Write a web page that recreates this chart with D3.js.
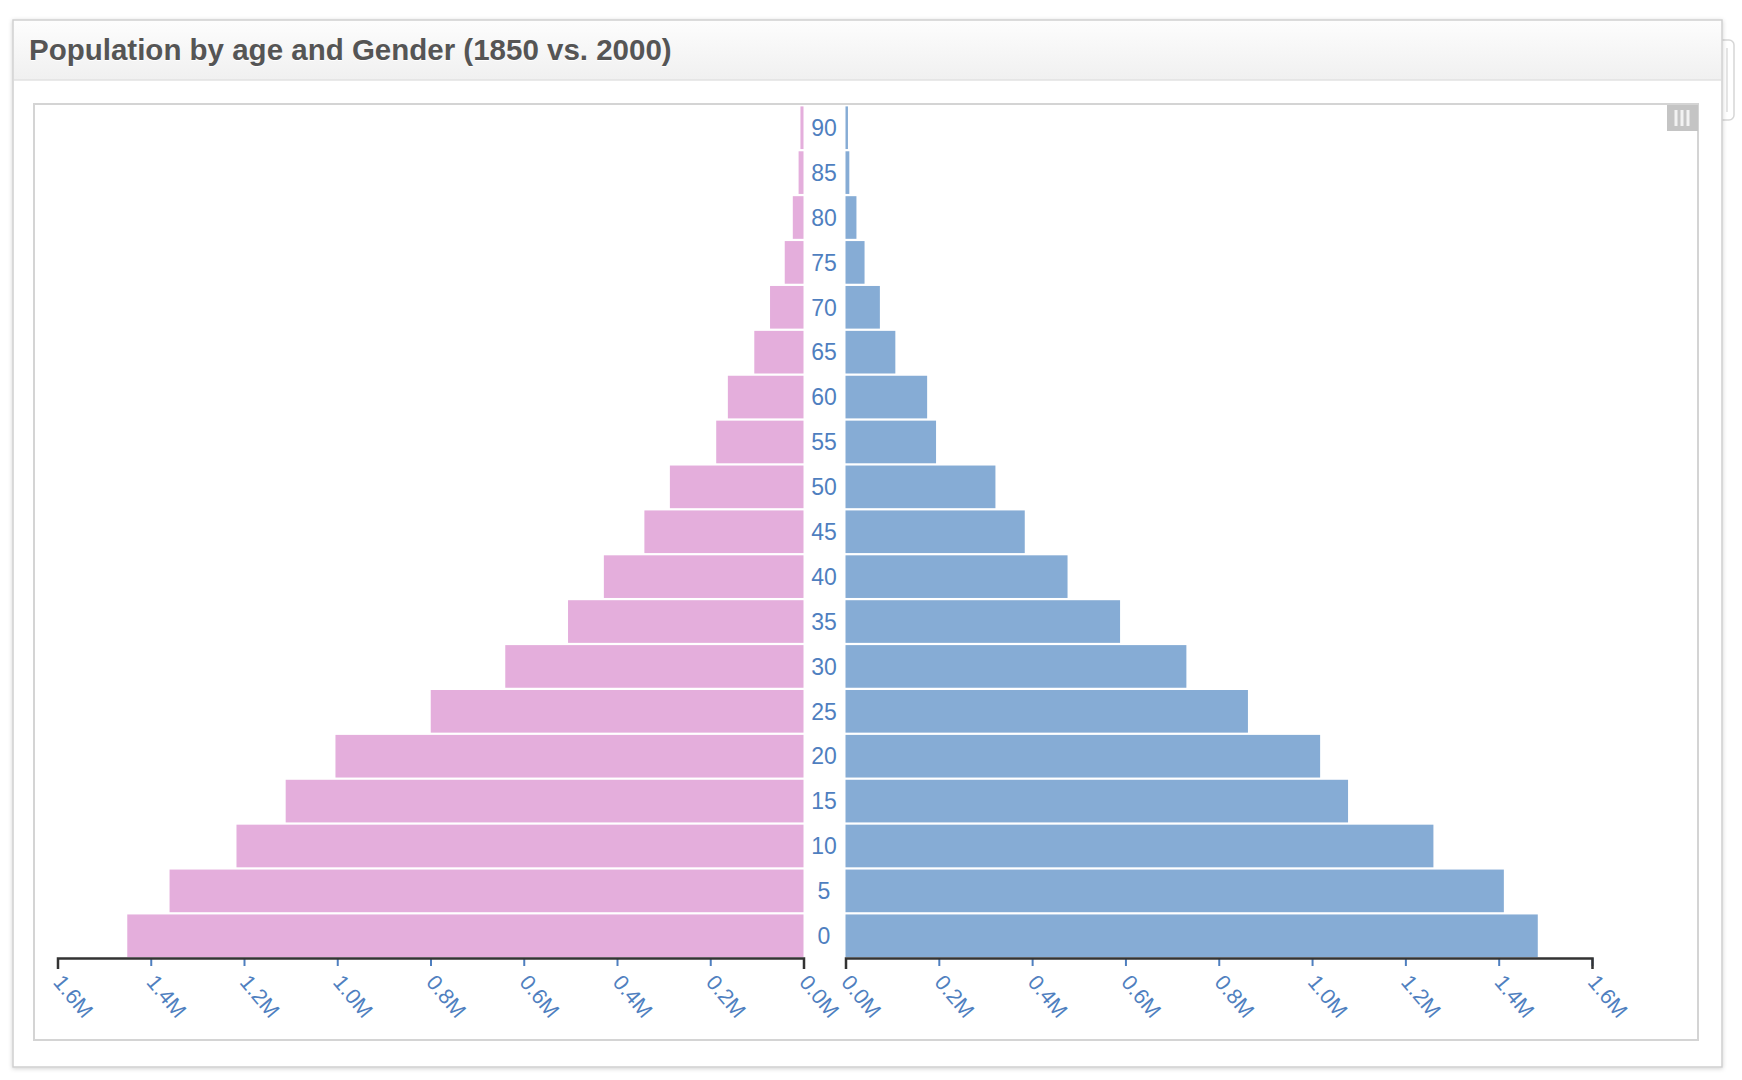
<!DOCTYPE html>
<html>
<head>
<meta charset="utf-8">
<script src="https://cdn.jsdelivr.net/npm/d3@7"></script>
<style>
  body { margin: 0; background: #fff; }
  svg { display: block; font-family: "Liberation Sans", Arial, Helvetica, sans-serif; }
</style>
</head>
<body>
<div id="pyramid"></div>
<script>
// age groups, bottom to top
var ages = [0, 5, 10, 15, 20, 25, 30, 35, 40, 45, 50, 55, 60, 65, 70, 75, 80, 85, 90];
// left side (pink)
var females = [1450376, 1359668, 1216114, 1110619, 1003841, 799482, 639636, 505012, 428185, 341254,
               286580, 187208, 162236, 105534, 71762, 40229, 22949, 10511, 6569];
// right side (blue)
var males = [1483789, 1411067, 1260099, 1077133, 1017281, 862547, 730638, 588487, 475911, 384211,
             321343, 194080, 174976, 106827, 73677, 40834, 23449, 8186, 5259];
var tickVals = [0, 200000, 400000, 600000, 800000, 1000000, 1200000, 1400000, 1600000];
var title = "Population by age and Gender (1850 vs. 2000)";

var width = 1742, height = 1080;
var labelColor = "#4f7fbf";

var svg = d3.select("#pyramid").append("svg")
    .attr("width", width)
    .attr("height", height);

var defs = svg.append("defs");
var grad = defs.append("linearGradient").attr("id", "hdr").attr("x1", 0).attr("y1", 0).attr("x2", 0).attr("y2", 1);
grad.append("stop").attr("offset", "0%").attr("stop-color", "#fdfdfd");
grad.append("stop").attr("offset", "100%").attr("stop-color", "#f0f0f0");
var shadow = defs.append("filter").attr("id", "shd").attr("x", "-5%").attr("y", "-5%").attr("width", "110%").attr("height", "110%");
shadow.append("feDropShadow").attr("dx", 0).attr("dy", 1).attr("stdDeviation", 2).attr("flood-color", "#000").attr("flood-opacity", 0.18);

// little tab on the right side of the panel
svg.append("rect")
    .attr("x", 1712).attr("y", 40).attr("width", 22).attr("height", 80).attr("rx", 5)
    .attr("fill", "#fff").attr("stroke", "#d6d6d6").attr("stroke-width", 1.5);
svg.append("line")
    .attr("x1", 1727).attr("x2", 1727).attr("y1", 48).attr("y2", 112)
    .attr("stroke", "#ddd").attr("stroke-width", 1.5);

// outer panel
svg.append("rect")
    .attr("x", 13).attr("y", 20).attr("width", 1709).attr("height", 1047)
    .attr("fill", "#fff").attr("stroke", "#cfcfcf").attr("stroke-width", 1.5)
    .attr("filter", "url(#shd)");
svg.append("rect")
    .attr("x", 14).attr("y", 21).attr("width", 1707).attr("height", 59)
    .attr("fill", "url(#hdr)");
svg.append("line")
    .attr("x1", 14).attr("x2", 1721).attr("y1", 80).attr("y2", 80)
    .attr("stroke", "#e2e2e2").attr("stroke-width", 1.5);
svg.append("text")
    .attr("x", 29).attr("y", 60)
    .attr("font-size", 29.5).attr("font-weight", "bold")
    .attr("fill", "#555")
    .style("text-shadow", "0 1px 0 #fff")
    .text(title);

// inner chart box
svg.append("rect")
    .attr("x", 34).attr("y", 104).attr("width", 1664).attr("height", 936)
    .attr("fill", "#fff").attr("stroke", "#d4d4d4").attr("stroke-width", 2);

// column icon top right
var icon = svg.append("g").attr("transform", "translate(1667,105)");
icon.append("rect").attr("width", 31).attr("height", 26).attr("fill", "#c4c4c4");
[9, 15, 21].forEach(function(x) {
  icon.append("rect").attr("x", x - 1.5).attr("y", 5).attr("width", 3).attr("height", 16).attr("fill", "#f2f2f2");
});

// scales
var xLeft = d3.scaleLinear().domain([0, 1600000]).range([803.5, 57.5]);
var xRight = d3.scaleLinear().domain([0, 1600000]).range([845.5, 1592]);
var y = d3.scaleBand().domain(ages.slice().reverse()).range([105.5, 958]).paddingInner(0.05).paddingOuter(0.02);

svg.append("g").selectAll("rect")
    .data(females)
    .enter().append("rect")
      .attr("fill", "#e4aedc")
      .attr("x", function(d) { return xLeft(d); })
      .attr("y", function(d, i) { return y(ages[i]); })
      .attr("width", function(d) { return xLeft(0) - xLeft(d); })
      .attr("height", y.bandwidth());

svg.append("g").selectAll("rect")
    .data(males)
    .enter().append("rect")
      .attr("fill", "#86acd5")
      .attr("x", xRight(0))
      .attr("y", function(d, i) { return y(ages[i]); })
      .attr("width", function(d) { return xRight(d) - xRight(0); })
      .attr("height", y.bandwidth());

// age labels in the middle
svg.append("g").selectAll("text")
    .data(ages)
    .enter().append("text")
      .attr("x", 824)
      .attr("y", function(d) { return y(d) + y.bandwidth() / 2; })
      .attr("dy", "0.36em")
      .attr("text-anchor", "middle")
      .attr("font-size", 23)
      .attr("fill", labelColor)
      .text(function(d) { return d; });

function fmt(d) { return (d / 1e6).toFixed(1) + "M"; }

function drawAxis(scale) {
  var g = svg.append("g")
      .attr("transform", "translate(0,958)")
      .call(d3.axisBottom(scale).tickValues(tickVals).tickFormat(fmt).tickSizeInner(8).tickSizeOuter(11));
  g.select(".domain").attr("stroke", "#333").attr("stroke-width", 2.5).raise();
  g.selectAll(".tick line").attr("stroke", labelColor).attr("stroke-width", 2);
  g.selectAll(".tick text")
      .attr("x", 0).attr("y", 0).attr("dy", "0.35em")
      .attr("text-anchor", "start")
      .attr("transform", "translate(0,20) rotate(50)")
      .attr("font-size", 21.5)
      .attr("font-family", "Liberation Sans, Arial, sans-serif")
      .attr("fill", labelColor);
}
drawAxis(xLeft);
drawAxis(xRight);
</script>
</body>
</html>
